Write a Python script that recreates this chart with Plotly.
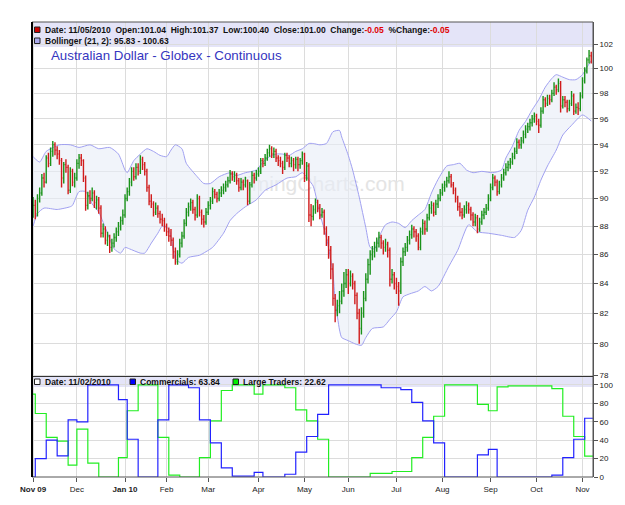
import numpy as np
import pandas as pd
import plotly.graph_objects as go

# ---------------- data ----------------
holidays = ["2009-11-26", "2009-12-25", "2010-01-01", "2010-01-18", "2010-02-15",
            "2010-04-02", "2010-05-31", "2010-07-05", "2010-09-06"]
dates = [d for d in pd.bdate_range("2009-11-02", "2010-11-05")
         if d.strftime("%Y-%m-%d") not in holidays]

opens = [89.2, 89.5, 88.9, 90.0, 90.4, 91.5, 91.2, 93.0, 92.6, 93.5,
         94.0, 93.6, 93.3, 92.8, 91.5, 92.5, 92.3, 90.6, 92.0, 91.2,
         91.5, 92.6, 93.0, 92.8, 91.5, 89.5, 90.2, 90.0, 90.4, 89.7,
         89.9, 89.3, 87.5, 87.8, 87.0, 87.3, 86.5, 86.8, 87.2, 87.6,
         88.0, 88.4, 88.8, 90.0, 90.5, 91.2, 92.0, 91.6, 92.3, 92.0,
         92.9, 92.5, 92.0, 90.8, 89.8, 89.6, 89.0, 89.3, 88.9, 88.5,
         88.4, 88.0, 87.6, 87.3, 87.0, 86.2, 85.5, 86.0, 86.8, 87.3,
         88.2, 89.0, 89.4, 89.7, 89.2, 88.8, 90.0, 89.0, 88.5, 88.3,
         89.0, 89.5, 89.8, 90.5, 90.3, 90.0, 90.4, 90.6, 90.8, 91.0,
         91.3, 91.8, 91.6, 91.7, 91.3, 90.8, 91.2, 91.0, 91.3, 89.8,
         91.0, 91.7, 91.5, 91.8, 92.0, 92.8, 92.6, 93.0, 93.4, 93.7,
         93.3, 93.5, 93.0, 92.8, 92.6, 92.3, 93.2, 93.0, 92.6, 92.8,
         92.5, 92.9, 92.5, 92.8, 93.3, 91.5, 92.4, 88.8, 88.7, 89.2,
         89.7, 89.3, 88.8, 89.0, 87.8, 87.0, 86.3, 85.0, 83.0, 82.2,
         82.5, 82.8, 83.5, 84.0, 84.6, 84.0, 84.5, 84.0, 83.2, 82.0,
         81.0, 82.0, 83.0, 84.3, 85.3, 86.0, 86.2, 86.5, 86.8, 87.2,
         86.8, 86.5, 86.7, 86.3, 84.3, 84.6, 84.0, 83.8, 83.5, 85.5,
         86.2, 86.5, 87.0, 87.4, 87.8, 87.6, 87.3, 86.5, 87.6, 88.2,
         87.8, 88.6, 89.3, 89.5, 89.0, 89.6, 90.0, 90.4, 90.8, 91.0,
         91.3, 91.6, 91.0, 90.6, 90.0, 89.4, 89.0, 88.8, 89.2, 89.5,
         89.2, 88.8, 88.3, 88.6, 87.8, 88.3, 88.8, 89.0, 89.3, 90.0,
         90.8, 91.5, 91.2, 90.5, 91.0, 91.5, 91.9, 92.3, 92.5, 92.7,
         93.1, 93.5, 94.2, 94.0, 94.3, 94.8, 95.2, 95.4, 95.7, 96.0,
         96.2, 95.8, 95.5, 96.6, 97.5, 97.2, 97.6, 97.5, 98.0, 98.5,
         98.3, 98.8, 97.0, 97.5, 97.3, 96.8, 97.2, 97.8, 96.6, 96.9,
         96.8, 97.8, 99.0, 99.8, 100.7, 101.04]

highs = [90.1, 89.9, 90.3, 90.8, 91.8, 91.9, 93.2, 93.4, 93.8, 94.3,
         94.2, 93.9, 93.6, 93.0, 92.7, 92.9, 92.5, 92.3, 92.2, 91.9,
         92.9, 93.3, 93.3, 92.9, 91.7, 90.5, 90.6, 90.8, 90.6, 90.2,
         90.1, 89.5, 88.2, 88.0, 87.6, 87.4, 87.1, 87.5, 87.9, 88.3,
         88.7, 89.2, 90.3, 90.8, 91.5, 92.3, 92.3, 92.6, 92.6, 93.2,
         93.1, 92.7, 92.2, 91.0, 90.3, 89.8, 89.7, 89.5, 89.1, 88.9,
         88.6, 88.2, 87.9, 87.8, 87.2, 86.5, 86.3, 87.1, 87.6, 88.5,
         89.3, 89.7, 90.0, 89.9, 89.4, 90.3, 90.2, 89.2, 88.8, 89.3,
         89.8, 90.1, 90.8, 90.7, 90.5, 90.7, 90.9, 91.1, 91.3, 91.6,
         92.1, 92.0, 92.0, 91.9, 91.5, 91.5, 91.4, 91.6, 91.4, 91.2,
         92.0, 91.9, 92.1, 92.3, 93.0, 93.0, 93.3, 93.7, 94.0, 93.9,
         93.8, 93.7, 93.2, 93.1, 92.8, 93.4, 93.4, 93.2, 93.1, 93.0,
         93.1, 93.1, 93.0, 93.5, 93.4, 92.7, 92.6, 89.6, 89.5, 90.0,
         89.9, 89.6, 89.3, 89.2, 88.0, 87.3, 86.6, 85.4, 83.3, 82.9,
         83.5, 84.0, 84.8, 85.0, 85.0, 84.9, 84.7, 84.2, 83.4, 82.3,
         82.4, 83.5, 84.7, 85.7, 86.3, 86.6, 86.9, 87.2, 87.6, 87.4,
         87.0, 87.1, 86.9, 86.5, 85.0, 84.8, 84.4, 84.1, 85.8, 86.5,
         86.8, 87.3, 87.7, 88.1, 88.0, 87.8, 87.5, 87.9, 88.5, 88.4,
         88.9, 89.6, 89.8, 89.7, 89.9, 90.3, 90.7, 91.1, 91.3, 91.6,
         92.0, 91.8, 91.2, 90.8, 90.2, 89.7, 89.3, 89.5, 89.8, 89.7,
         89.4, 89.0, 88.9, 88.8, 88.6, 89.1, 89.3, 89.6, 90.3, 91.1,
         91.8, 91.7, 91.4, 91.3, 91.8, 92.2, 92.6, 92.8, 93.0, 93.4,
         93.8, 94.5, 94.4, 94.6, 95.1, 95.5, 95.7, 96.0, 96.3, 96.5,
         96.4, 96.0, 96.9, 97.8, 97.7, 97.9, 97.9, 98.3, 98.9, 98.7,
         99.2, 99.0, 97.8, 97.8, 97.5, 97.5, 98.2, 98.0, 97.2, 97.3,
         98.1, 99.3, 100.1, 100.9, 101.5, 101.37]

lows = [88.6, 88.5, 88.7, 89.7, 90.2, 90.8, 91.1, 92.3, 92.4, 93.1,
        93.2, 92.9, 92.5, 90.8, 91.1, 91.9, 90.3, 90.4, 90.9, 90.8,
        91.3, 92.2, 92.4, 91.2, 89.1, 89.2, 89.6, 89.8, 89.3, 89.2,
        88.9, 87.2, 87.2, 86.7, 86.6, 86.1, 86.2, 86.5, 86.9, 87.3,
        87.7, 88.1, 88.6, 89.8, 90.2, 90.9, 91.3, 91.4, 91.7, 91.8,
        92.1, 91.7, 90.5, 89.5, 89.3, 88.7, 88.8, 88.6, 88.2, 88.0,
        87.6, 87.3, 86.9, 86.6, 85.7, 85.3, 85.3, 85.8, 86.5, 87.1,
        88.0, 88.7, 89.1, 88.9, 88.4, 88.6, 88.7, 88.1, 87.9, 88.1,
        88.8, 89.2, 89.6, 90.0, 89.7, 89.8, 90.1, 90.3, 90.5, 90.8,
        91.1, 91.3, 91.2, 91.0, 90.5, 90.6, 90.6, 90.8, 89.5, 89.6,
        90.8, 91.1, 91.3, 91.6, 91.8, 92.3, 92.4, 92.8, 93.1, 93.0,
        93.0, 92.7, 92.4, 92.3, 91.8, 92.1, 92.7, 92.3, 92.3, 92.0,
        92.2, 92.0, 92.2, 92.5, 91.2, 91.3, 88.3, 88.0, 88.4, 88.9,
        89.0, 88.5, 88.6, 87.4, 86.6, 85.7, 84.3, 82.5, 81.4, 81.8,
        82.0, 82.6, 83.1, 83.7, 83.3, 83.8, 83.6, 82.6, 81.6, 80.0,
        80.6, 81.7, 82.8, 84.0, 84.6, 85.6, 85.8, 86.2, 86.5, 86.4,
        86.0, 86.2, 85.8, 83.8, 84.0, 83.6, 83.3, 82.5, 83.3, 85.2,
        85.9, 86.2, 86.7, 87.1, 87.2, 86.9, 86.3, 86.3, 87.4, 87.4,
        87.6, 88.4, 88.9, 88.7, 88.8, 89.3, 89.8, 90.2, 90.5, 90.8,
        91.1, 90.8, 90.3, 89.7, 89.1, 88.7, 88.5, 88.6, 88.9, 88.9,
        88.4, 88.0, 88.0, 87.5, 87.6, 88.1, 88.5, 88.8, 89.1, 89.8,
        90.6, 90.9, 90.2, 90.3, 90.8, 91.3, 91.7, 92.0, 92.2, 92.5,
        92.9, 93.3, 93.7, 93.7, 94.1, 94.5, 94.9, 95.1, 95.4, 95.7,
        95.5, 94.9, 95.3, 96.4, 96.9, 97.0, 97.1, 97.3, 97.8, 97.9,
        98.1, 96.5, 96.8, 96.9, 96.5, 96.6, 97.0, 96.3, 96.4, 96.3,
        96.6, 97.6, 98.8, 99.6, 100.4, 100.40]

closes = [89.5, 88.9, 90.0, 90.4, 91.5, 91.2, 93.0, 92.6, 93.5, 94.0,
          93.6, 93.3, 92.8, 91.5, 92.5, 92.3, 90.6, 92.0, 91.2, 91.5,
          92.6, 93.0, 92.8, 91.5, 89.5, 90.2, 90.0, 90.4, 89.7, 89.9,
          89.3, 87.5, 87.8, 87.0, 87.3, 86.5, 86.8, 87.2, 87.6, 88.0,
          88.4, 88.8, 90.0, 90.5, 91.2, 92.0, 91.6, 92.3, 92.0, 92.9,
          92.5, 92.0, 90.8, 89.8, 89.6, 89.0, 89.3, 88.9, 88.5, 88.4,
          88.0, 87.6, 87.3, 87.0, 86.2, 85.5, 86.0, 86.8, 87.3, 88.2,
          89.0, 89.4, 89.7, 89.2, 88.8, 90.0, 89.0, 88.5, 88.3, 89.0,
          89.5, 89.8, 90.5, 90.3, 90.0, 90.4, 90.6, 90.8, 91.0, 91.3,
          91.8, 91.6, 91.7, 91.3, 90.8, 91.2, 91.0, 91.3, 89.8, 91.0,
          91.7, 91.5, 91.8, 92.0, 92.8, 92.6, 93.0, 93.4, 93.7, 93.3,
          93.5, 93.0, 92.8, 92.6, 92.3, 93.2, 93.0, 92.6, 92.8, 92.5,
          92.9, 92.5, 92.8, 93.3, 91.5, 92.4, 88.8, 88.7, 89.2, 89.7,
          89.3, 88.8, 89.0, 87.8, 87.0, 86.3, 85.0, 83.0, 82.2, 82.5,
          82.8, 83.5, 84.0, 84.6, 84.0, 84.5, 84.0, 83.2, 82.0, 81.0,
          82.0, 83.0, 84.3, 85.3, 86.0, 86.2, 86.5, 86.8, 87.2, 86.8,
          86.5, 86.7, 86.3, 84.3, 84.6, 84.0, 83.8, 83.5, 85.5, 86.2,
          86.5, 87.0, 87.4, 87.8, 87.6, 87.3, 86.5, 87.6, 88.2, 87.8,
          88.6, 89.3, 89.5, 89.0, 89.6, 90.0, 90.4, 90.8, 91.0, 91.3,
          91.6, 91.0, 90.6, 90.0, 89.4, 89.0, 88.8, 89.2, 89.5, 89.2,
          88.8, 88.3, 88.6, 87.8, 88.3, 88.8, 89.0, 89.3, 90.0, 90.8,
          91.5, 91.2, 90.5, 91.0, 91.5, 91.9, 92.3, 92.5, 92.7, 93.1,
          93.5, 94.2, 94.0, 94.3, 94.8, 95.2, 95.4, 95.7, 96.0, 96.2,
          95.8, 95.5, 96.6, 97.5, 97.2, 97.6, 97.5, 98.0, 98.5, 98.3,
          98.8, 97.0, 97.5, 97.3, 96.8, 97.2, 97.8, 96.6, 96.9, 96.8,
          97.8, 99.0, 99.8, 100.7, 101.05, 101.00]

# Bollinger (21, 2) band readings: trading-day index and value
upper_days = [0, 3, 6, 12, 17, 21, 26, 30, 35, 39, 42, 43, 46, 49, 52, 55, 58, 61, 63, 65,
              68, 70, 75, 78, 81, 85, 90, 93, 97, 102, 105, 108, 111, 114, 117, 120, 123,
              126, 128, 131, 134, 137, 140, 141, 144, 146, 149, 152, 154, 156, 158, 161,
              164, 167, 170, 173, 176, 179, 182, 185, 189, 192, 195, 198, 201, 205, 210,
              214, 216, 219, 222, 225, 228, 231, 234, 237, 239, 242, 245, 248, 251, 253, 255]
upper_band = [93.1, 92.7, 93.5, 94.0, 94.0, 93.8, 94.0, 93.7, 93.8, 93.3, 92.1, 91.9, 92.8,
              93.3, 93.7, 93.5, 93.2, 93.1, 93.6, 94.0, 93.7, 92.6, 91.6, 91.1, 91.1, 91.6,
              91.9, 91.7, 91.9, 92.1, 92.7, 93.1, 93.3, 93.3, 93.2, 93.5, 93.7, 94.1, 94.1,
              94.0, 94.1, 95.0, 95.1, 94.6, 93.2, 92.1, 90.1, 87.9, 86.5, 86.4, 87.2, 88.1,
              88.3, 88.2, 87.9, 88.4, 88.8, 89.2, 90.4, 91.4, 92.4, 92.5, 92.6, 92.1, 91.9,
              92.0, 91.9, 92.1, 93.0, 93.9, 95.1, 95.8, 96.7, 97.5, 98.5, 99.2, 99.5, 99.3,
              99.1, 99.1, 99.5, 100.1, 100.63]
lower_days = [0, 2, 5, 11, 17, 18, 21, 24, 27, 30, 34, 37, 40, 42, 44, 49, 51, 54, 57, 59,
              62, 65, 68, 71, 76, 79, 82, 87, 90, 93, 97, 102, 106, 111, 116, 120, 123, 126,
              128, 131, 134, 137, 138, 140, 141, 144, 147, 150, 152, 155, 160, 163, 166,
              169, 172, 176, 179, 182, 185, 190, 194, 199, 203, 208, 214, 220, 223, 226,
              229, 232, 235, 239, 242, 246, 251, 255]
lower_band = [88.0, 88.9, 89.3, 89.2, 89.4, 89.5, 90.5, 90.5, 89.6, 89.0, 87.5, 86.4, 86.1,
              86.5, 86.4, 86.1, 86.1, 86.8, 87.5, 88.0, 87.8, 85.7, 85.4, 85.8, 85.95, 86.2,
              86.5, 87.5, 88.4, 88.9, 89.4, 89.9, 90.6, 91.0, 91.5, 91.6, 91.9, 91.35, 90.9,
              88.9, 87.2, 84.7, 82.9, 80.9, 80.4, 80.2, 80.0, 79.9, 80.4, 81.0, 81.1, 81.6,
              82.1, 83.1, 83.3, 83.5, 83.8, 83.5, 83.8, 85.2, 86.3, 88.1, 87.6, 87.5, 87.35,
              87.2, 87.7, 89.15, 90.1, 91.35, 92.4, 93.6, 94.75, 95.5, 96.3, 95.83]

# weekly COT index (Tuesdays), first value is the prior week (Oct 27, 2009)
cot_dates = ["2009-10-27"] + [d.strftime("%Y-%m-%d") for d in
                              pd.date_range("2009-11-03", "2010-11-02", freq="7D")]
commercials = [0, 20, 40, 23, 62, 60, 100, 100, 100, 84, 41, 0, 0, 62, 100, 100, 97, 62,
               37, 10, 1, 1, 5, 0, 0, 3, 27, 44, 68, 100, 100, 100, 100, 100, 97, 97, 95,
               81, 61, 37, 0, 0, 0, 24, 30, 0, 0, 0, 0, 0, 2, 21, 41, 63.84]
large_traders = [90, 69, 43, 39, 13, 52, 15, 0, 0, 21, 72, 100, 100, 43, 2, 0, 0, 21, 61,
                 94, 100, 100, 90, 100, 100, 97, 73, 61, 41, 0, 0, 0, 0, 4, 4, 6, 6, 21, 43,
                 66, 100, 100, 100, 79, 72, 98, 99, 99, 99, 99, 96, 66, 44, 22.62]

month_labels = ["<b>Nov 09</b>", "Dec", "<b>Jan 10</b>", "Feb", "Mar", "Apr", "May",
                "Jun", "Jul", "Aug", "Sep", "Oct", "Nov"]
price_ticks = list(range(78, 103, 2))
cot_ticks = [0, 20, 40, 60, 80, 100]

# ---------------- positions ----------------
idx = list(range(len(dates)))
month_idx = []
seen = set()
for i, d in enumerate(dates):
    key = (d.year, d.month)
    if key not in seen:
        seen.add(key)
        month_idx.append(i)

hol = np.array(holidays, dtype="datetime64[D]")
cot_x = [int(np.busday_count(np.datetime64("2009-11-02"), np.datetime64(d), holidays=hol))
         for d in cot_dates]

W, H = 625, 505
L, R, T, B = 32, 593, 22, 477
PW, PH = R - L, B - T
split = (B - 376.5) / PH
xr = [-0.5, 255.8]

# the last weekly reading is held to the right edge of the chart
cot_x_plot = cot_x + [xr[1]]
comm_plot = commercials + [commercials[-1]]
large_plot = large_traders + [large_traders[-1]]


def ohlc_paths(sel):
    """Vertical high-low bar plus open (left) and close (right) ticks, per selected day."""
    xs, ys = [], []
    t = 0.32
    for i in sel:
        xs += [i, i, None, i - t, i, None, i, i + t, None]
        ys += [lows[i], highs[i], None, opens[i], opens[i], None, closes[i], closes[i], None]
    return xs, ys


up_days = [i for i in idx if closes[i] >= opens[i]]
down_days = [i for i in idx if closes[i] < opens[i]]


def pxx(p):
    return (p - L) / PW


def pxy(p):
    return (B - p) / PH


FONT = "Liberation Sans, Arial, sans-serif"

fig = go.Figure()

# watermark (under the data)
fig.add_trace(go.Scatter(x=[131], y=[90.9], mode="text", text=["TimingCharts.com"],
                         textfont=dict(size=21, color="#e4e4e4", family=FONT),
                         hoverinfo="skip", showlegend=False, xaxis="x", yaxis="y"))

band_line = dict(color="#a0a0f0", width=1, shape="spline", smoothing=0.6)
fig.add_trace(go.Scatter(x=lower_days, y=lower_band, mode="lines", line=band_line,
                         hoverinfo="skip", showlegend=False, xaxis="x", yaxis="y"))
fig.add_trace(go.Scatter(x=upper_days, y=upper_band, mode="lines", line=band_line,
                         fill="tonexty", fillcolor="rgba(232,237,246,0.6)",
                         hoverinfo="skip", showlegend=False, xaxis="x", yaxis="y"))

ux, uy = ohlc_paths(up_days)
dx, dy = ohlc_paths(down_days)
fig.add_trace(go.Scatter(x=ux, y=uy, mode="lines", line=dict(color="#1a921a", width=1.4),
                         connectgaps=False, hoverinfo="skip", showlegend=False,
                         xaxis="x", yaxis="y"))
fig.add_trace(go.Scatter(x=dx, y=dy, mode="lines", line=dict(color="#d01c1c", width=1.4),
                         connectgaps=False, hoverinfo="skip", showlegend=False,
                         xaxis="x", yaxis="y"))

fig.add_trace(go.Scatter(x=cot_x_plot, y=large_plot, mode="lines",
                         line=dict(color="#22ee22", width=1.2, shape="hv"),
                         showlegend=False, xaxis="x2", yaxis="y2"))
fig.add_trace(go.Scatter(x=cot_x_plot, y=comm_plot, mode="lines",
                         line=dict(color="#2222ff", width=1.2, shape="hv"),
                         showlegend=False, xaxis="x2", yaxis="y2"))

grid = "#dcdcdc"
axfont = dict(family=FONT, size=8, color="#222")

shapes = [
    dict(type="rect", xref="paper", yref="paper", x0=0, x1=1, y0=pxy(47), y1=1,
         fillcolor="#e4e4f8", line=dict(width=0), layer="below"),
    dict(type="rect", xref="paper", yref="paper", x0=0, x1=1, y0=pxy(387), y1=split,
         fillcolor="#e4e4f8", line=dict(width=0), layer="below"),
    dict(type="rect", xref="paper", yref="paper", x0=0, x1=1, y0=0, y1=1,
         line=dict(color="#555", width=1), layer="above"),
    dict(type="line", xref="paper", yref="paper", x0=0, x1=1, y0=split, y1=split,
         line=dict(color="#333", width=1), layer="above"),
    dict(type="line", xref="paper", yref="paper", x0=0, x1=0, y0=0, y1=1,
         line=dict(color="#000", width=2), layer="above"),
]


def icon(x0, y0, color):
    return dict(type="rect", xref="paper", yref="paper", x0=pxx(x0), x1=pxx(x0 + 5.5),
                y0=pxy(y0 + 5.5), y1=pxy(y0), fillcolor=color,
                line=dict(color="#222", width=1), layer="above")


shapes += [icon(34.5, 27, "#cc0000"), icon(34.5, 38, "#aaaaee"),
           icon(34.5, 379, "#ffffff"), icon(130, 379, "#0000ff"), icon(233, 379, "#00ee00")]

sp = "\u00a0\u00a0"
red = '<span style="color:#e00000">-0.05</span>'
row1 = ("<b>Date: 11/05/2010" + sp + "Open:101.04" + sp + "High:101.37" + sp +
        "Low:100.40" + sp + "Close:101.00" + sp + "Change:" + red + sp + "%Change:" + red + "</b>")
row2 = "<b>Bollinger (21, 2): 95.83 - 100.63</b>"

legend_font = dict(family=FONT, size=8.5, color="#111")
annotations = [
    dict(xref="paper", yref="paper", x=pxx(43), y=pxy(30), text=row1, showarrow=False,
         xanchor="left", yanchor="middle", font=legend_font),
    dict(xref="paper", yref="paper", x=pxx(43), y=pxy(41), text=row2, showarrow=False,
         xanchor="left", yanchor="middle", font=legend_font),
    dict(xref="paper", yref="paper", x=pxx(49), y=pxy(55.5),
         text="Australian Dollar - Globex - Continuous", showarrow=False,
         xanchor="left", yanchor="middle", font=dict(family=FONT, size=13.3, color="#3535c0")),
    dict(xref="paper", yref="paper", x=pxx(43), y=pxy(382), text="<b>Date: 11/02/2010</b>",
         showarrow=False, xanchor="left", yanchor="middle", font=legend_font),
    dict(xref="paper", yref="paper", x=pxx(138), y=pxy(382), text="<b>Commercials: 63.84</b>",
         showarrow=False, xanchor="left", yanchor="middle", font=legend_font),
    dict(xref="paper", yref="paper", x=pxx(241), y=pxy(382), text="<b>Large Traders: 22.62</b>",
         showarrow=False, xanchor="left", yanchor="middle", font=legend_font),
]

fig.update_layout(
    width=W, height=H,
    margin=dict(l=L, r=W - R, t=T, b=H - B, pad=0),
    paper_bgcolor="white", plot_bgcolor="white",
    showlegend=False,
    xaxis=dict(domain=[0, 1], anchor="y", range=xr, tickvals=month_idx, showticklabels=False,
               ticks="", showgrid=True, gridcolor=grid, gridwidth=1, zeroline=False,
               showline=False),
    xaxis2=dict(domain=[0, 1], anchor="y2", range=xr, tickvals=month_idx, ticktext=month_labels,
                ticks="outside", ticklen=4, tickcolor="#555", tickfont=axfont,
                showgrid=True, gridcolor=grid, gridwidth=1, zeroline=False, showline=False),
    yaxis=dict(domain=[split, 1], anchor="x", type="log", side="right",
               range=[np.log10(77.905), np.log10(103.84)], tickvals=price_ticks,
               ticktext=[str(v) for v in price_ticks], ticks="outside", ticklen=4,
               tickcolor="#555", tickfont=axfont, showgrid=True, gridcolor=grid,
               zeroline=False, showline=True, linecolor="#555"),
    yaxis2=dict(domain=[0, split], anchor="x2", side="right", range=[0, 109.2],
                tickvals=cot_ticks, ticks="outside", ticklen=4, tickcolor="#555",
                tickfont=axfont, showgrid=True, gridcolor=grid, zeroline=False,
                showline=True, linecolor="#555"),
    shapes=shapes,
    annotations=annotations,
)

fig.write_html("out.html")
